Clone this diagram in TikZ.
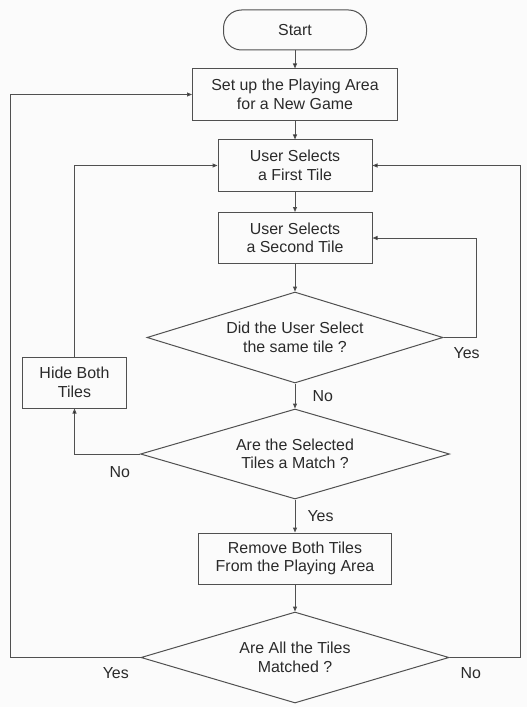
\documentclass[tikz,border=0pt]{standalone}
\usepackage{fontspec}
\setmainfont{Liberation Sans}
\usepackage{tikz}
\usetikzlibrary{shapes.geometric}
\usetikzlibrary{arrows.meta}
\usetikzlibrary{positioning}
\definecolor{bg}{HTML}{FBFBFB}
\definecolor{ln}{HTML}{505050}
\definecolor{txt}{HTML}{2A2A2A}
\newcommand\chartfont{\fontsize{16}{18.5}\selectfont}
\begin{document}
\begin{tikzpicture}[x=1bp,y=-1bp,line width=1bp,draw=ln,
    >={Triangle[length=5bp,width=4bp,fill=black]},
    every node/.style={font=\chartfont,text=txt},
    term/.style={rectangle,rounded corners=18bp,draw=ln,minimum width=143bp,minimum height=40bp,inner sep=0pt},
    box/.style={rectangle,draw=ln,minimum height=51bp,inner sep=0pt,align=center},
    decision/.style={diamond,draw=ln,shape aspect=3.3,minimum height=91bp,inner sep=0pt,align=center},
    lbl/.style={anchor=north,inner sep=0pt,yshift=-10bp}]

  \useasboundingbox[fill=bg] (0,0) rectangle (527,707);

  \node[term]                       (start)  at (295,30)    {Start};
  \node[box,minimum width=205bp]    (setup)  at (295,94.5)  {Set up the Playing Area\\for a New Game};
  \node[box,minimum width=154bp]    (first)  at (295,165.5) {User Selects\\a First Tile};
  \node[box,minimum width=154bp]    (second) at (295,238)   {User Selects\\a Second Tile};
  \node[decision,minimum width=296bp] (same) at (295,337.5) {Did the User Select\\the same tile ?};
  \node[decision,minimum width=309bp,minimum height=90bp] (match) at (295,454) {Are the Selected\\Tiles a Match ?};
  \node[box,minimum width=193bp]    (remove) at (295,558.5) {Remove Both Tiles\\From the Playing Area};
  \node[decision,minimum width=308bp] (done) at (295,657.5) {Are All the Tiles\\Matched ?};
  \node[box,minimum width=103bp]    (hide)   at (74.5,382.5) {Hide Both\\Tiles};

  \draw[->] (start) -- (setup);
  \draw[->] (setup) -- (first);
  \draw[->] (first) -- (second);
  \draw[->] (second) -- (same);
  \draw[->] (same) -- node[anchor=west,inner sep=0pt,xshift=17bp] {No} (match);
  \draw[->] (match) -- node[anchor=west,inner sep=0pt,xshift=12bp] {Yes} (remove);
  \draw[->] (remove) -- (done);

  % loops back
  \draw[->] (same.east) -- node[lbl,pos=0.7] {Yes} ++(33,0) |- (second.east);
  \draw[->] (match.west) -- node[lbl,pos=0.31,yshift=-2bp] {No} (match.west -| hide.south) -- (hide.south);
  \draw[->] (hide.north) |- (first.west);
  \draw[->] (done.west) -- node[lbl,pos=0.19] {Yes} ++(-130,0) |- (setup.west);
  \draw[->] (done.east) -- node[lbl,pos=0.3] {No} ++(71,0) |- (first.east);
\end{tikzpicture}
\end{document}
